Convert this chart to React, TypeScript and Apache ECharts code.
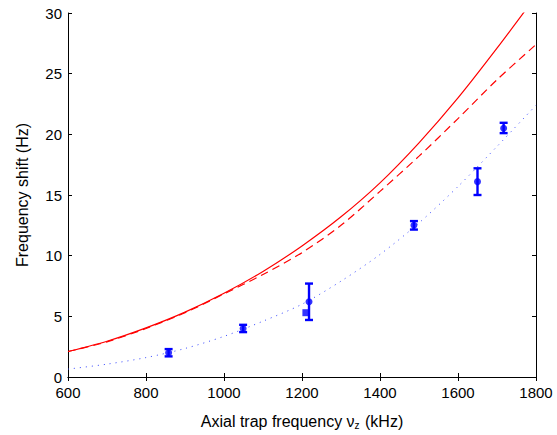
import React, { useEffect, useRef } from "react";
import * as echarts from "echarts";

const xTicks = [600, 800, 1000, 1200, 1400, 1600, 1800];
const curveX = [600, 700, 800, 900, 1000, 1100, 1200, 1300, 1400, 1500, 1600, 1700, 1800];
const solidRed = [2.1, 2.95, 4.05, 5.35, 6.9, 8.7, 10.8, 13.2, 16.0, 19.3, 23.0, 27.1, 31.4];
const dashedRed = [2.1, 2.9, 4.0, 5.3, 6.85, 8.45, 10.25, 12.5, 15.3, 18.2, 21.3, 24.5, 27.4];
const dottedBlue = [0.65, 1.06, 1.6, 2.35, 3.35, 4.6, 6.0, 7.9, 10.1, 12.7, 15.7, 19.0, 22.4];

const pointX = [858, 1049, 1218, 1487, 1650, 1717];
const pointY = [2.0, 4.0, 6.2, 12.5, 16.1, 20.5];
const pointLow = [1.7, 3.7, 4.7, 12.15, 15.0, 20.1];
const pointHigh = [2.3, 4.3, 7.7, 12.85, 17.2, 20.95];

const squareX = [1210];
const squareY = [5.3];

const BLUE = "#0000ff";
const RED = "#ff0000";
const FONT = "Liberation Sans, Arial, Helvetica, sans-serif";

export default function App() {
  const ref = useRef<HTMLDivElement>(null);
  useEffect(() => {
    if (!ref.current) return;
    const chart = echarts.init(ref.current, undefined, { renderer: "svg" });
    const axisCommon = {
      type: "value",
      axisLine: { show: true, lineStyle: { color: "#000", width: 1 } },
      axisTick: { show: true, inside: true, length: 4, lineStyle: { color: "#000" } },
      splitLine: { show: false },
    };
    const labelStyle = {
      color: "#000",
      fontSize: 15,
      fontFamily: FONT,
      lineHeight: 12,
      formatter: (v: number) => String(v),
    };
    chart.setOption({
      animation: false,
      backgroundColor: "#fff",
      grid: { left: 68, right: 21, top: 13, bottom: 53, containLabel: false },
      xAxis: [
        {
          ...axisCommon,
          min: xTicks[0],
          max: xTicks[xTicks.length - 1],
          interval: 200,
          position: "bottom",
          axisLabel: { ...labelStyle, margin: 9 },
          name: "Axial trap frequency ν{sub|z} (kHz)",
          nameLocation: "middle",
          nameGap: 36,
          nameTextStyle: {
            color: "#000",
            fontSize: 16,
            fontFamily: FONT,
            rich: {
              sub: { fontSize: 10, fontFamily: FONT, color: "#000", verticalAlign: "bottom", padding: [7, 1, 0, 0] },
            },
          },
        },
        {
          ...axisCommon,
          min: xTicks[0],
          max: xTicks[xTicks.length - 1],
          interval: 200,
          position: "top",
          axisLabel: { show: false },
        },
      ],
      yAxis: [
        {
          ...axisCommon,
          min: 0,
          max: 30,
          interval: 5,
          position: "left",
          axisLabel: { ...labelStyle, margin: 6 },
          name: "Frequency shift (Hz)",
          nameLocation: "middle",
          nameGap: 38,
          nameTextStyle: { color: "#000", fontSize: 16, fontFamily: FONT },
        },
        {
          ...axisCommon,
          min: 0,
          max: 30,
          interval: 5,
          position: "right",
          axisLabel: { show: false },
        },
      ],
      series: [
        {
          type: "line",
          data: curveX.map((x, i) => [x, solidRed[i]]),
          smooth: 0.3,
          showSymbol: false,
          clip: true,
          lineStyle: { color: RED, width: 1.2, type: "solid" },
          z: 2,
        },
        {
          type: "line",
          data: curveX.map((x, i) => [x, dashedRed[i]]),
          smooth: 0.3,
          showSymbol: false,
          clip: true,
          lineStyle: { color: RED, width: 1.2, type: [8, 5] },
          z: 2,
        },
        {
          type: "line",
          data: curveX.map((x, i) => [x, dottedBlue[i]]),
          smooth: 0.3,
          showSymbol: false,
          clip: true,
          lineStyle: { color: "#3344ff", width: 1, type: [1, 5] },
          z: 2,
        },
        {
          type: "custom",
          data: pointX.map((x, i) => [x, pointLow[i], pointHigh[i]]),
          encode: { x: 0, y: [1, 2] },
          renderItem: (params: any, api: any) => {
            const x = api.value(0);
            const lo = api.coord([x, api.value(1)]);
            const hi = api.coord([x, api.value(2)]);
            const hw = 4;
            const style = { stroke: BLUE, lineWidth: 2.4 };
            return {
              type: "group",
              children: [
                { type: "line", shape: { x1: lo[0], y1: lo[1], x2: hi[0], y2: hi[1] }, style },
                { type: "line", shape: { x1: lo[0] - hw, y1: lo[1], x2: lo[0] + hw, y2: lo[1] }, style },
                { type: "line", shape: { x1: hi[0] - hw, y1: hi[1], x2: hi[0] + hw, y2: hi[1] }, style },
              ],
            };
          },
          z: 3,
        },
        {
          type: "scatter",
          data: pointX.map((x, i) => [x, pointY[i]]),
          symbol: "circle",
          symbolSize: 7,
          itemStyle: { color: BLUE },
          z: 4,
        },
        {
          type: "scatter",
          data: squareX.map((x, i) => [x, squareY[i]]),
          symbol: "rect",
          symbolSize: 7,
          itemStyle: { color: BLUE },
          z: 4,
        },
      ],
    });
    return () => chart.dispose();
  }, []);
  return (
    <div
      ref={ref}
      style={{ position: "fixed", left: 0, top: 0, width: 557, height: 435, background: "#fff" }}
    />
  );
}
